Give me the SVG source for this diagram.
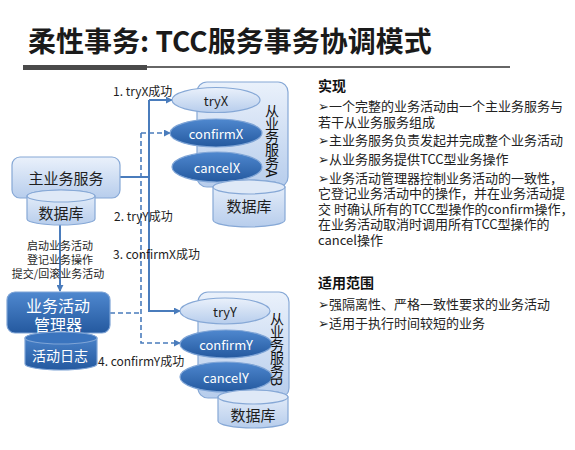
<svg xmlns="http://www.w3.org/2000/svg" width="575" height="450" viewBox="0 0 575 450">
<defs>
<linearGradient id="lg" x1="0" y1="0" x2="0" y2="1"><stop offset="0" stop-color="#eaf1fb"/><stop offset="1" stop-color="#b7cdec"/></linearGradient>
<linearGradient id="dg" x1="0" y1="0" x2="0" y2="1"><stop offset="0" stop-color="#4f88cf"/><stop offset="1" stop-color="#24599f"/></linearGradient>
<marker id="ar" viewBox="0 0 8 8" refX="7" refY="4" markerWidth="7" markerHeight="7" markerUnits="userSpaceOnUse" orient="auto"><path d="M0,0 L8,4 L0,8 Z" fill="#4a7cbc"/></marker>
<style>
text{font-family:"Noto Sans CJK SC","Noto Sans",sans-serif;}
.lt{fill:url(#lg);stroke:#86a8d6;stroke-width:1.2;}
.dk{fill:url(#dg);stroke:#7ea4d6;stroke-width:1.2;}
.top{fill:#dfe9f7;stroke:#86a8d6;stroke-width:1.2;}
.dtop{fill:#3a74be;stroke:#7ea4d6;stroke-width:1.2;}
.c{text-anchor:middle;dominant-baseline:central;}
.w{fill:#fff;}
.b{fill:#1e1e1e;}
.lbl{font-size:12px;fill:#1e1e1e;dominant-baseline:central;}
.rt{font-size:13px;fill:#222;dominant-baseline:central;}
.hd{font-size:14px;font-weight:bold;fill:#111;dominant-baseline:central;}
.sl{fill:none;stroke:#4a7cbc;stroke-width:2;}
.ds{fill:none;stroke:#4a7cbc;stroke-width:1.6;stroke-dasharray:5,3;}
.vt{font-size:14px;fill:#111;writing-mode:vertical-rl;letter-spacing:-1px;}
</style>
</defs>
<rect width="575" height="450" fill="#fff"/>
<g id="title">
<text x="28" y="52" font-size="28" font-weight="bold" fill="#1a1a1a">柔性事务: TCC服务事务协调模式</text>
<line x1="147" y1="67" x2="510" y2="67" stroke="#333" stroke-width="1.3"/>
<rect x="23" y="65" width="124" height="5" fill="#4a4a4a"/>
</g>
<g id="connectors">
<path class="sl" d="M60,225 V291" marker-end="url(#ar)"/>
<path class="sl" d="M120,177 H149"/>
<path class="sl" d="M149,100 H172" marker-end="url(#ar)"/>
<path class="sl" d="M149,100 V311 H180" marker-end="url(#ar)"/>
<path class="ds" d="M110,313 H141"/>
<path class="ds" d="M141,133 H170" marker-end="url(#ar)"/>
<path class="ds" d="M141,133 V343 H180" marker-end="url(#ar)"/>
</g>
<g id="main-service">
<rect class="lt" x="12" y="157" width="108" height="41" rx="8"/>
<text class="c b" x="66" y="177" font-size="15">主业务服务</text>
</g>
<g id="main-db">
<path class="lt" d="M27,196 A34,6 0 0 1 95,196 V219 A34,6 0 0 1 27,219 Z"/>
<ellipse class="top" cx="61" cy="196" rx="34" ry="6"/>
<text class="c b" x="61" y="212" font-size="15">数据库</text>
</g>
<g id="manager">
<rect class="dk" x="7" y="292" width="103" height="41" rx="8"/>
<text class="c w" x="58" y="305" font-size="16">业务活动</text>
<text class="c w" x="58" y="324" font-size="16">管理器</text>
</g>
<g id="activity-log">
<path class="dk" d="M25,338 A36,6 0 0 1 97,338 V364 A36,6 0 0 1 25,364 Z"/>
<ellipse class="dtop" cx="61" cy="338" rx="36" ry="6"/>
<text class="c w" x="60" y="355" font-size="14">活动日志</text>
</g>
<g id="service-a">
<rect class="lt" x="197" y="82" width="91" height="105" rx="10"/>
<ellipse class="lt" cx="216" cy="100" rx="44" ry="12.5"/>
<text class="c b" x="216" y="100" font-size="13">tryX</text>
<ellipse class="dk" cx="216" cy="133" rx="46" ry="14"/>
<text class="c w" x="216" y="133" font-size="13">confirmX</text>
<ellipse class="dk" cx="217" cy="167" rx="45" ry="15"/>
<text class="c w" x="217" y="167" font-size="13">cancelX</text>
<text class="vt" x="272" y="104">从业务服务A</text>
</g>
<g id="db-a">
<path class="lt" d="M213,187 A36,7 0 0 1 285,187 V220 A36,7 0 0 1 213,220 Z"/>
<ellipse class="top" cx="249" cy="187" rx="36" ry="7"/>
<text class="c b" x="249" y="205" font-size="15">数据库</text>
</g>
<g id="service-b">
<rect class="lt" x="198" y="292" width="91" height="106" rx="10"/>
<ellipse class="lt" cx="225" cy="311" rx="45" ry="13"/>
<text class="c b" x="225" y="311" font-size="13">tryY</text>
<ellipse class="dk" cx="226" cy="344" rx="46" ry="14"/>
<text class="c w" x="226" y="344" font-size="13">confirmY</text>
<ellipse class="dk" cx="226" cy="377" rx="46" ry="15"/>
<text class="c w" x="226" y="377" font-size="13">cancelY</text>
<text class="vt" x="277" y="312">从业务服务B</text>
</g>
<g id="db-b">
<path class="lt" d="M218,397 A35,7 0 0 1 288,397 V421 A35,7 0 0 1 218,421 Z"/>
<ellipse class="top" cx="253" cy="397" rx="35" ry="7"/>
<text class="c b" x="253" y="414" font-size="15">数据库</text>
</g>
<g id="labels">
<text class="lbl" x="113" y="90">1. tryX成功</text>
<text class="lbl" x="114" y="215">2. tryY成功</text>
<text class="lbl" x="113" y="253">3. confirmX成功</text>
<text class="lbl" x="98" y="360">4. confirmY成功</text>
<text class="c" x="60" y="245" font-size="11" fill="#1e1e1e">启动业务活动</text>
<text class="c" x="60" y="259" font-size="11" fill="#1e1e1e">登记业务操作</text>
<text class="c" x="58" y="273" font-size="11" fill="#1e1e1e">提交/回滚业务活动</text>
</g>
<g id="notes">
<text class="hd" x="318" y="85">实现</text>
<text class="rt" x="318" y="105">➢一个完整的业务活动由一个主业务服务与</text>
<text class="rt" x="318" y="121">若干从业务服务组成</text>
<text class="rt" x="318" y="139">➢主业务服务负责发起并完成整个业务活动</text>
<text class="rt" x="318" y="158">➢从业务服务提供TCC型业务操作</text>
<text class="rt" x="318" y="177">➢业务活动管理器控制业务活动的一致性，</text>
<text class="rt" x="318" y="192">它登记业务活动中的操作，并在业务活动提</text>
<text class="rt" x="318" y="208">交 时确认所有的TCC型操作的confirm操作，</text>
<text class="rt" x="318" y="223">在业务活动取消时调用所有TCC型操作的</text>
<text class="rt" x="318" y="239">cancel操作</text>
<text class="hd" x="318" y="282">适用范围</text>
<text class="rt" x="318" y="303">➢强隔离性、严格一致性要求的业务活动</text>
<text class="rt" x="318" y="322">➢适用于执行时间较短的业务</text>
</g>
</svg>
